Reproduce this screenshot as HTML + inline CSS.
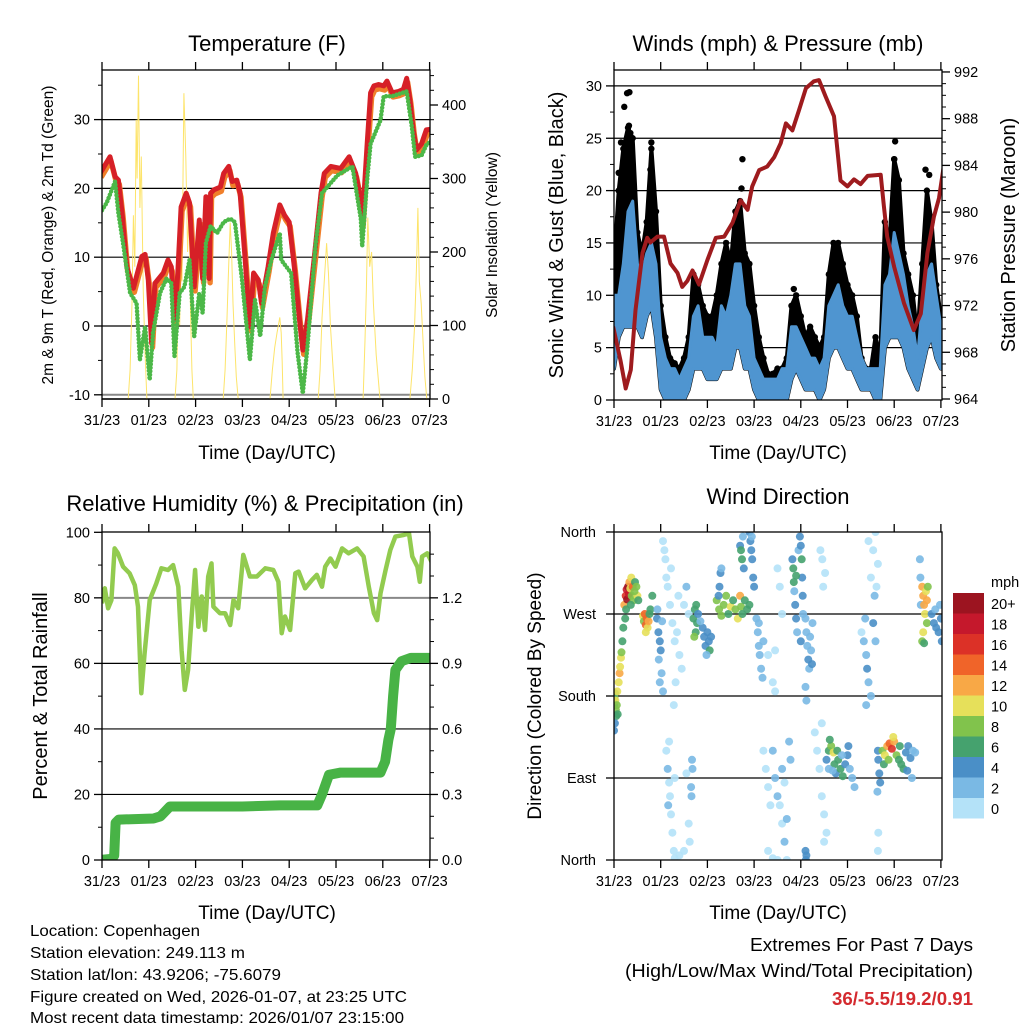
<!DOCTYPE html>
<html><head><meta charset="utf-8"><style>
html,body{margin:0;padding:0;background:#fff;}
svg{display:block;font-family:"Liberation Sans",Arial,sans-serif;}
</style></head><body>
<svg id="svg" width="1024" height="1024" viewBox="0 0 1024 1024">
<defs>
<clipPath id="c1"><rect x="102" y="70" width="328" height="330"/></clipPath>
<clipPath id="c2"><rect x="614" y="70" width="328" height="330"/></clipPath>
<clipPath id="c3"><rect x="102" y="532" width="328" height="328"/></clipPath>
<clipPath id="c4"><rect x="614" y="532" width="328" height="328"/></clipPath>
</defs>
<text x="267" y="51" font-size="22" text-anchor="middle">Temperature (F)</text>
<text x="778" y="51" font-size="22" text-anchor="middle">Winds (mph) &amp; Pressure (mb)</text>
<text x="265" y="511" font-size="22" text-anchor="middle">Relative Humidity (%) &amp; Precipitation (in)</text>
<text x="778" y="504" font-size="22" text-anchor="middle">Wind Direction</text>
<text x="267" y="459" font-size="19" text-anchor="middle">Time (Day/UTC)</text>
<text x="778" y="459" font-size="19" text-anchor="middle">Time (Day/UTC)</text>
<text x="267" y="919" font-size="19" text-anchor="middle">Time (Day/UTC)</text>
<text x="778" y="919" font-size="19" text-anchor="middle">Time (Day/UTC)</text>
<text transform="translate(53,235) rotate(-90)" font-size="15.5" text-anchor="middle">2m &amp; 9m T (Red, Orange) &amp; 2m Td (Green)</text>
<text transform="translate(497,235) rotate(-90)" font-size="15.5" text-anchor="middle">Solar Insolation (Yellow)</text>
<text transform="translate(563,235) rotate(-90)" font-size="20" text-anchor="middle">Sonic Wind &amp; Gust (Blue, Black)</text>
<text transform="translate(1015,235) rotate(-90)" font-size="20" text-anchor="middle">Station Pressure (Maroon)</text>
<text transform="translate(47,696) rotate(-90)" font-size="20" text-anchor="middle">Percent &amp; Total Rainfall</text>
<text transform="translate(541,696) rotate(-90)" font-size="19" text-anchor="middle">Direction (Colored By Speed)</text>
<g font-size="16">
<text x="30" y="936" textLength="170" lengthAdjust="spacingAndGlyphs">Location: Copenhagen</text>
<text x="30" y="958" textLength="215" lengthAdjust="spacingAndGlyphs">Station elevation: 249.113 m</text>
<text x="30" y="980" textLength="251" lengthAdjust="spacingAndGlyphs">Station lat/lon: 43.9206; -75.6079</text>
<text x="30" y="1002" textLength="377" lengthAdjust="spacingAndGlyphs">Figure created on Wed, 2026-01-07, at 23:25 UTC</text>
<text x="30" y="1023" textLength="374" lengthAdjust="spacingAndGlyphs">Most recent data timestamp: 2026/01/07 23:15:00</text>
</g>
<text x="750" y="951" font-size="18" textLength="223" lengthAdjust="spacingAndGlyphs">Extremes For Past 7 Days</text>
<text x="625" y="977" font-size="18" textLength="348" lengthAdjust="spacingAndGlyphs">(High/Low/Max Wind/Total Precipitation)</text>
<text x="832" y="1005" font-size="18" font-weight="bold" fill="#d42a2f" textLength="141" lengthAdjust="spacingAndGlyphs">36/-5.5/19.2/0.91</text>
</svg>
<script>
const dayLabels=["31/23","01/23","02/23","03/23","04/23","05/23","06/23","07/23"];
const tempTicks=[-10,0,10,20,30];
const solarTicks=[0,100,200,300,400];
const windTicks=[0,5,10,15,20,25,30];
const presTicks=[964,968,972,976,980,984,988,992];
const rhTicks=[0,20,40,60,80,100];
const precipTicks=[0,0.3,0.6,0.9,1.2];
const dirTicks=[0,90,180,270,360];
const dirLabels=["North","East","South","West","North"];

const tempT=[[-0.04,22.2],[0.17,24.6],[0.28,21.7],[0.35,21.2],[0.43,16.4],[0.53,8.6],[0.67,5.5],[0.85,10.1],[0.92,10.4],[0.99,6.7],[1.06,-2.5],[1.13,6.2],[1.31,7.7],[1.41,9.6],[1.48,8.6],[1.55,0.9],[1.62,7.7],[1.69,17.3],[1.8,19.3],[1.87,17.9],[1.97,5.7],[2.08,15.4],[2.15,6.9],[2.22,18.8],[2.29,6.9],[2.32,19.3],[2.39,19.8],[2.53,20.2],[2.6,22.2],[2.71,23.2],[2.78,21],[2.88,21.2],[2.95,19.3],[3.06,9.6],[3.16,-0.1],[3.24,7.7],[3.34,6.7],[3.41,3.3],[3.55,8.6],[3.66,13.5],[3.8,17.6],[3.9,16.1],[4.0,15.1],[4.11,8.6],[4.22,0.9],[4.29,-3.5],[4.39,0.9],[4.53,9.6],[4.68,19.3],[4.75,22.2],[4.89,23.2],[5.1,22.9],[5.28,24.6],[5.42,22.2],[5.53,18.3],[5.56,15.1],[5.6,19.3],[5.67,27],[5.74,33.9],[5.81,34.9],[5.91,35.1],[6.02,34.9],[6.09,35.6],[6.2,33.9],[6.34,34.1],[6.44,34.4],[6.51,36.0],[6.58,32.9],[6.65,28.5],[6.72,25.6],[6.83,26.5],[6.93,28.5],[7.05,28.6]];
const tempTd=[[-0.04,16.4],[0.1,17.9],[0.28,21.0],[0.35,16.4],[0.46,11.6],[0.6,4.8],[0.74,3.3],[0.81,-4.9],[0.92,-0.1],[1.02,-7.8],[1.09,-1.0],[1.24,4.8],[1.38,6.9],[1.48,6.2],[1.55,-4.4],[1.66,4.8],[1.76,5.7],[1.87,9.6],[1.97,-1.5],[2.08,4.8],[2.15,1.9],[2.22,12.1],[2.32,14.5],[2.46,13.5],[2.6,15.1],[2.74,15.6],[2.84,15.1],[2.99,6.9],[3.16,-4.9],[3.27,3.8],[3.38,-1.5],[3.48,5.7],[3.62,9.6],[3.8,13.5],[3.83,9.6],[4.04,7.7],[4.18,-3.9],[4.29,-9.8],[4.39,-2.9],[4.56,11.6],[4.7,19.3],[5.03,21.9],[5.35,23.2],[5.53,15.6],[5.56,11.6],[5.67,21.7],[5.74,26.5],[5.95,29.9],[6.02,33.4],[6.2,33.4],[6.51,34.1],[6.62,29],[6.69,24.6],[6.83,24.8],[6.93,26.3],[7.05,27]];
const solar=[[-0.05,0],[0.56,0],[0.6,40],[0.64,130],[0.67,250],[0.7,180],[0.73,380],[0.75,300],[0.78,440],[0.81,260],[0.84,330],[0.88,150],[0.92,60],[0.96,0],[1.56,0],[1.6,40],[1.63,150],[1.66,100],[1.69,220],[1.71,160],[1.73,300],[1.75,416],[1.79,330],[1.83,200],[1.86,260],[1.89,120],[1.92,40],[1.95,0],[2.59,0],[2.63,40],[2.67,110],[2.7,170],[2.74,240],[2.77,200],[2.8,130],[2.84,70],[2.87,30],[2.91,0],[3.59,0],[3.64,40],[3.69,70],[3.74,90],[3.8,111],[3.83,90],[3.85,50],[3.87,0],[4.62,0],[4.66,40],[4.7,110],[4.74,150],[4.8,212],[4.84,170],[4.88,100],[4.93,50],[4.98,0],[5.58,0],[5.62,80],[5.65,150],[5.68,247],[5.72,180],[5.76,200],[5.8,130],[5.86,60],[5.94,0],[6.58,0],[6.63,40],[6.68,100],[6.72,180],[6.75,260],[6.78,160],[6.82,130],[6.86,80],[6.9,30],[6.94,0],[7.05,0]];

const pres=[[-0.02,970.2],[0.14,967.3],[0.25,964.9],[0.36,966.5],[0.46,971.6],[0.61,976.5],[0.71,977.8],[0.78,977.4],[0.93,977.9],[1.07,977.9],[1.21,975.6],[1.36,974.8],[1.46,973.6],[1.57,974.1],[1.68,975],[1.82,973.8],[2.0,975.9],[2.18,977.8],[2.36,977.9],[2.54,979.1],[2.71,981],[2.86,980.2],[2.96,982.2],[3.11,983.6],[3.28,983.9],[3.43,984.7],[3.57,985.9],[3.68,987.6],[3.82,987.0],[3.96,988.7],[4.11,990.6],[4.28,991.2],[4.39,991.3],[4.53,989.9],[4.71,988.2],[4.85,982.7],[5.0,982.2],[5.14,982.8],[5.28,982.4],[5.43,983.1],[5.71,983.2],[5.78,980.5],[5.85,977.9],[6.0,975.3],[6.21,972.2],[6.42,969.9],[6.57,971.3],[6.71,976.5],[6.85,979.6],[6.96,981.2],[7.06,983.9]];
const windTime=[0,0.1,0.2,0.3,0.4,0.5,0.6,0.7,0.8,0.9,1.0,1.1,1.2,1.3,1.4,1.5,1.6,1.7,1.8,1.9,2.0,2.1,2.2,2.3,2.4,2.5,2.6,2.7,2.8,2.9,3.0,3.1,3.2,3.3,3.4,3.5,3.6,3.7,3.8,3.9,4.0,4.1,4.2,4.3,4.4,4.5,4.6,4.7,4.8,4.9,5.0,5.1,5.2,5.3,5.4,5.5,5.6,5.7,5.8,5.9,6.0,6.1,6.2,6.3,6.4,6.5,6.6,6.7,6.8,6.9,7.0];
const windLo=[3,6,7,7,7,7,6,8,9,6,1,0,0,0,0,0,1,3,3,3,2,2,2,3,3,3,5,5,3,3,1,0,0,0,0,0,0,0,2,3,2,1,1,1,0,1,4,5,5,4,3,3,2,1,1,1,0,0,5,6,6,6,5,3,2,1,3,5,6,4,3];
const windHi=[10,10,13,18,19,13,12,14,15,13,6,4,3,3,2,3,4,8,9,6,6,6,5,9,8,10,13,13,9,8,4,3,2,2,2,2,3,3,7,7,6,5,4,4,3,4,9,10,11,9,8,8,6,4,3,3,3,3,11,12,16,14,12,9,7,4,9,12,13,10,7];
const gustHi=[13,20,24,26,25,16,14,17,24,18,9,6,4,3.5,3,4,6,12,11,9,8,8,10,13,15,13,18,19,14,13,9,6,4,2.5,2.5,3,3,4,9,10,8,6,7,6,5,6,12,15,15,13,11,10,8,4,3,3,6,4,17,15,23,21,14,12,10,6,13,20,17,11,8];
const gustExtra=[[0.22,28],[0.28,29.3],[0.33,29.4],[0.32,26.2],[0.35,25.5],[0.15,24.6],[0.8,24.6],[0.78,22],[2.75,23],[2.73,20.2],[6.02,24.7],[6.0,23],[6.67,22],[6.75,21.5],[3.85,10.6],[0.1,21.7],[0.2,22.3],[0.4,20.3]];

const rh=[[0,78.3],[0.06,82.9],[0.13,76.8],[0.2,79.3],[0.27,95.1],[0.34,93.6],[0.45,89.5],[0.59,87.5],[0.7,83.9],[0.77,77.3],[0.84,50.9],[0.91,63.1],[1.02,79.3],[1.16,84.4],[1.27,89],[1.41,88.5],[1.52,90],[1.63,83.4],[1.7,64],[1.77,51.9],[1.84,58],[1.91,73.2],[1.99,88.5],[2.06,71.2],[2.13,80.4],[2.2,70.2],[2.27,86.5],[2.34,90.5],[2.38,77.3],[2.52,75.3],[2.63,75.3],[2.74,71.7],[2.81,79.3],[2.91,76.8],[3.02,93.1],[3.16,86.5],[3.31,86.5],[3.49,89],[3.66,88.5],[3.77,84.9],[3.84,69.2],[3.91,74.3],[4.02,70.2],[4.13,87.5],[4.2,88],[4.34,82.9],[4.49,85.5],[4.59,87],[4.7,83.4],[4.77,89.5],[4.88,92],[4.99,89.5],[5.13,95.1],[5.27,93.6],[5.45,95.1],[5.59,92.6],[5.7,83.4],[5.81,75.3],[5.88,73.2],[5.95,81.4],[6.06,88.5],[6.16,94.6],[6.27,98.7],[6.45,99.2],[6.56,99.7],[6.63,92.6],[6.74,89.5],[6.79,84.9],[6.84,92.6],[6.95,93.6],[7.04,91]];
const precip=[[-0.05,0],[0.2,0.005],[0.26,0.02],[0.29,0.17],[0.36,0.185],[1.1,0.19],[1.25,0.2],[1.45,0.245],[3.0,0.245],[3.8,0.25],[4.6,0.25],[4.7,0.3],[4.85,0.39],[5.1,0.4],[5.95,0.4],[6.05,0.45],[6.12,0.55],[6.17,0.6],[6.22,0.75],[6.27,0.87],[6.4,0.91],[6.6,0.925],[7.05,0.925]];

const wdPoints=[[0.0,170,6],[0.01,178,8],[0.02,183,7],[0.03,175,10],[0.04,165,9],[0.05,158,7],[0.06,170,8],[0.08,160,6],[0.02,150,4],[0.0,142,4],[0.07,185,10],
[0.1,195,10],[0.12,205,12],[0.13,212,11],[0.15,222,10],[0.16,228,8],[0.18,240,6],[0.2,255,7],
[0.22,280,12],[0.25,290,16],[0.27,297,18],[0.28,286,20],[0.3,300,20],[0.32,292,18],[0.33,305,13],[0.35,298,11],[0.37,310,10],[0.38,290,9],[0.4,300,14],[0.42,285,8],[0.45,305,7],[0.48,300,8],[0.5,290,10],[0.52,285,7],[0.26,275,7],[0.24,265,6],[0.36,280,6],[0.44,295,9],
[0.62,268,10],[0.64,262,9],[0.66,270,14],[0.68,258,15],[0.7,265,14],[0.72,255,11],[0.74,262,12],[0.76,270,7],[0.78,275,6],[0.68,250,10],[0.82,290,6],
[0.92,265,4],[0.95,250,4],[0.98,240,5],[1.0,230,4],[0.96,220,3],[1.02,205,3],[0.98,195,2],[1.05,185,3],[0.93,275,3],[1.03,262,2],
[1.05,350,0],[1.08,340,1],[1.1,330,0],[1.12,310,1],[1.15,300,1],[1.2,280,0],[1.25,260,1],[1.3,240,1],[1.35,250,0],[1.4,225,1],[1.45,210,0],[1.5,280,1],[1.55,300,2],[1.6,270,1],[1.22,320,1],[1.38,290,1],[1.32,195,0],[1.28,170,1],
[1.12,120,1],[1.15,100,2],[1.18,85,1],[1.2,70,1],[1.22,50,0],[1.25,30,1],[1.28,10,0],[1.3,2,1],[1.18,130,0],[1.16,60,3],[1.3,90,1],[1.4,5,0],[1.6,40,1],[1.65,80,3],[1.67,110,3],[1.66,70,2],[1.68,100,2],[1.62,20,1],[1.55,95,0],[1.5,10,1],
[1.7,265,6],[1.73,275,7],[1.76,280,6],[1.78,260,6],[1.8,270,5],[1.75,250,6],[1.9,255,4],[1.93,245,4],[1.96,235,5],[2.0,250,4],[2.03,240,4],[2.05,230,6],[1.98,225,3],[1.85,262,3],[2.08,245,4],[1.72,245,8],
[2.2,285,8],[2.25,275,8],[2.3,268,9],[2.35,280,8],[2.4,290,9],[2.45,270,7],[2.5,278,10],[2.55,285,6],[2.6,275,8],[2.65,265,10],[2.7,290,12],[2.72,278,8],[2.75,270,7],[2.8,285,6],[2.85,275,6],[2.9,280,6],
[2.26,300,4],[2.28,315,4],[2.3,320,3],[2.24,290,5],
[2.7,345,4],[2.72,340,6],[2.74,330,7],[2.76,355,3],[2.78,320,4],[2.9,360,4],[2.92,350,4],[2.94,340,4],[2.96,330,4],[2.98,310,4],[3.0,300,4],[2.95,355,3],
[3.05,265,2],[3.08,250,3],[3.1,235,3],[3.12,225,2],[3.15,210,3],[3.18,200,3],[3.1,260,2],[3.2,240,2],[3.3,225,1],[3.4,195,1],[3.45,185,0],[3.5,320,1],[3.55,300,1],[3.6,270,1],[3.45,230,1],
[3.2,120,1],[3.25,100,1],[3.3,80,0],[3.35,60,1],[3.4,120,2],[3.45,90,3],[3.5,70,2],[3.55,60,1],[3.6,40,1],[3.65,20,2],[3.7,0,1],[3.3,10,0],[3.4,2,0],[3.5,0,1],[3.6,100,2],[3.65,85,1],[3.7,45,3],[3.75,130,2],[3.78,110,2],
[3.82,330,4],[3.84,320,6],[3.85,305,6],[3.86,295,3],[3.88,280,4],[3.9,265,4],[3.92,250,3],[3.95,340,3],[3.98,355,4],[4.0,345,4],[4.02,330,6],[4.03,310,4],[4.04,290,4],[3.9,312,6],[4.05,270,3],[4.0,240,4],
[4.1,265,3],[4.12,250,2],[4.14,235,3],[4.16,220,4],[4.18,210,2],[4.2,245,2],[4.22,230,3],[4.24,215,4],[4.1,190,3],[4.12,175,2],[4.25,260,3],
[4.1,10,4],[4.12,5,4],[4.11,0,4],
[4.3,140,1],[4.35,120,1],[4.4,100,1],[4.45,70,0],[4.5,50,1],[4.55,30,1],[4.45,150,1],[4.5,20,0],[4.42,340,1],[4.48,300,1],[4.52,315,0],[4.46,330,1],
[4.55,110,5],[4.6,120,7],[4.65,125,9],[4.7,118,10],[4.72,105,7],[4.75,95,4],[4.8,110,6],[4.85,100,6],[4.9,92,6],[4.95,105,5],[5.0,115,4],[5.05,100,3],[5.1,90,2],[5.15,80,3],[4.6,100,3],[4.68,98,3],[4.78,120,6],[4.88,115,3],[5.02,125,4],[4.62,132,7],
[5.3,250,1],[5.35,240,2],[5.4,225,3],[5.42,210,4],[5.45,195,2],[5.5,180,2],[5.38,265,3],[5.55,260,4],[5.6,240,2],[5.62,300,1],[5.55,340,0],[5.6,360,0],[5.65,325,0],[5.58,290,3],[5.5,310,1],[5.4,170,2],[5.45,350,1],
[5.65,120,4],[5.66,110,5],[5.68,95,4],[5.7,85,4],[5.64,75,2],[5.66,30,1],[5.65,10,1],
[5.75,120,8],[5.8,115,10],[5.85,125,12],[5.9,128,14],[5.95,122,16],[6.0,130,12],[6.05,115,8],[6.1,110,6],[6.15,105,6],[6.2,100,6],[6.25,118,5],[6.3,125,4],[6.35,112,4],[6.4,120,3],[6.45,118,3],[5.78,105,6],[5.88,110,8],[5.98,135,10],[6.12,125,7],[6.28,98,4],[6.38,90,3],
[6.55,330,2],[6.56,310,2],[6.57,280,2],[6.6,300,12],[6.62,290,12],[6.64,280,13],[6.66,270,11],[6.68,295,10],[6.7,285,12],[6.62,250,10],[6.6,240,8],[6.64,238,6],[6.7,260,8],[6.72,300,8],
[6.8,270,4],[6.85,260,4],[6.9,255,4],[6.95,250,4],[7.0,265,4],[7.02,240,4],[6.88,275,3],[6.98,280,3]];
const speedColors=["#b4e2f8","#7ab9e4","#4a8fc7","#45a26e","#81c34c","#e6e05a","#f8a846","#f06429","#dc3127","#c5182c","#9c1420"];
const speedLabels=["0","2","4","6","8","10","12","14","16","18","20+"];

const NS="http://www.w3.org/2000/svg";
const svg=document.getElementById('svg');
function mk(tag,attrs,parent){const e=document.createElementNS(NS,tag);for(const k in attrs)e.setAttribute(k,attrs[k]);(parent||svg).appendChild(e);return e;}
function grp(name,clip){const g=mk('g',clip?{'clip-path':'url(#'+clip+')'}:{});return g;}
function line(g,x1,y1,x2,y2,stroke,w){return mk('line',{x1:x1,y1:y1,x2:x2,y2:y2,stroke:stroke,'stroke-width':w},g);}
function txt(g,x,y,s,anchor,size){const t=mk('text',{x:x,y:y,'font-size':size||14,'text-anchor':anchor},g);t.textContent=s;return t;}

const xL=t=>102+t*46.8, xR=t=>614+t*46.7;
const yT=v=>326-v*6.88, yS=w=>399-w*0.735;
const yW=v=>400-v*10.47, yP=p=>399-(p-964)*11.68;
const yRH=v=>860-v*3.277, yPr=v=>860-v/0.015*3.277;
const yD=d=>860-d*328/360;

function frame(name,x0,y0,x1,y1,xf){
  const g=grp(name);
  dayLabels.forEach((lab,i)=>{const x=xf(i);
    line(g,x,y1,x,y1+8,'#000',1.3);line(g,x,y0,x,y0-8,'#000',1.3);
    const t=txt(g,x,y1+26,lab,'middle',14.5);
    
    
  });
  const r=mk('rect',{x:x0,y:y0,width:x1-x0,height:y1-y0,fill:'none',stroke:'#000','stroke-width':1.3},g);
  
  
  return g;
}
function gridY(g,vals,yf,x0,x1,greyFn){vals.forEach(v=>{line(g,x0,yf(v),x1,yf(v),greyFn&&greyFn(v)?'#888':'#000',greyFn&&greyFn(v)?2:1.2);});}
function axisY(g,vals,yf,x,side,fmt,minor,lbl){
  const d=side==='left'?-8:8;
  vals.forEach(v=>{const y=yf(v);line(g,x,y,x+d,y,'#000',1.3);
    const t=txt(g,x+(side==='left'?-12:12),y+5,fmt?fmt(v):String(v),side==='left'?'end':'start',14.5);
    
    
  });
  (minor||[]).forEach(v=>{const y=yf(v);line(g,x,y,x+d/2,y,'#000',1);});
}
function pathFrom(arr,xf,yf){return arr.map((p,i)=>(i?'L':'M')+xf(p[0]).toFixed(1)+','+yf(p[1]).toFixed(1)).join('');}
function range(a,b,s){const r=[];for(let v=a;v<=b+1e-9;v+=s)r.push(+v.toFixed(3));return r;}

/* ---- Panel 1 Temperature ---- */
{
 const gg=grp('temp-grid');gridY(gg,tempTicks,yT,102,430,v=>v===-10);
 line(gg,102,yS(0),430,yS(0),'#999',2);
 const gd=grp('temp-data','c1');
 let p=mk('path',{d:pathFrom(solar,xL,yS),fill:'none',stroke:'#fde46a','stroke-width':1},gd);
 
 p=mk('path',{d:pathFrom(tempT.map(q=>[q[0]+0.02,q[1]-0.6]),xL,yT),fill:'none',stroke:'#f07f2a','stroke-width':5.5,'stroke-linejoin':'round'},gd);
 
 p=mk('path',{d:pathFrom(tempT,xL,yT),fill:'none',stroke:'#d62027','stroke-width':5,'stroke-linejoin':'round'},gd);
 
 p=mk('path',{d:pathFrom(tempTd,xL,yT),fill:'none',stroke:'#4cb848','stroke-width':4.5,'stroke-linecap':'round','stroke-dasharray':'0 3.5'},gd);
 
 const ga=frame('temp-axes',102,70,430,399,xL);
 axisY(ga,tempTicks,yT,102,'left',null,range(-5,35,10),'temp-tick-label');
 axisY(ga,solarTicks,yS,430,'right',null,range(20,440,20).filter(v=>v%100),'solar-tick-label');
}
/* ---- Panel 2 Winds ---- */
{
 const gg=grp('wind-grid');gridY(gg,windTicks.slice(1),yW,614,942);
 const gd=grp('wind-data','c2');
 let d='M'+windTime.map((t,i)=>xR(t).toFixed(1)+','+yW(gustHi[i]).toFixed(1)).join('L')+'L'+windTime.map((t,i)=>xR(t).toFixed(1)+','+yW(windLo[i]).toFixed(1)).reverse().join('L')+'Z';
 let p=mk('path',{d:d,fill:'#000',stroke:'#000','stroke-width':4,'stroke-linejoin':'round'},gd);
 
 windTime.forEach((t,i)=>{const c=mk('circle',{cx:xR(t),cy:yW(gustHi[i]),r:3.2,fill:'#000'},gd);
   
   });
 gustExtra.forEach(q=>{const c=mk('circle',{cx:xR(q[0]),cy:yW(q[1]),r:3.2,fill:'#000'},gd);
   
   });
 d='M'+windTime.map((t,i)=>xR(t).toFixed(1)+','+yW(windHi[i]).toFixed(1)).join('L')+'L'+windTime.map((t,i)=>xR(t).toFixed(1)+','+yW(windLo[i]).toFixed(1)).reverse().join('L')+'Z';
 p=mk('path',{d:d,fill:'#4f95d0',stroke:'#4f95d0','stroke-width':3,'stroke-linejoin':'round'},gd);
 
 p=mk('path',{d:pathFrom(pres,xR,yP),fill:'none',stroke:'#9e1b1e','stroke-width':4,'stroke-linejoin':'round'},gd);
 
 const ga=frame('wind-axes',614,70,942,400,xR);
 axisY(ga,windTicks,yW,614,'left',null,range(2.5,30,5),'wind-tick-label');
 axisY(ga,presTicks,yP,942,'right',null,range(965,991,1).filter(v=>(v-964)%4),'pressure-tick-label');
}
/* ---- Panel 3 RH ---- */
{
 const gg=grp('rh-grid');gridY(gg,[20,40,60,80],yRH,102,430,v=>v===80);
 const gd=grp('rh-data','c3');
 let p=mk('path',{d:pathFrom(precip,xL,yPr),fill:'none',stroke:'#48b346','stroke-width':10,'stroke-linejoin':'round','stroke-linecap':'round'},gd);
 
 p=mk('path',{d:pathFrom(rh,xL,yRH),fill:'none',stroke:'#92cb4f','stroke-width':4.5,'stroke-linejoin':'round'},gd);
 
 const ga=frame('rh-axes',102,532,430,860,xL);
 axisY(ga,rhTicks,yRH,102,'left',null,range(10,90,20),'rh-tick-label');
 axisY(ga,precipTicks,yPr,430,'right',v=>v.toFixed(1),range(0.1,1.4,0.1).filter(v=>Math.round(v*10)%3),'precip-tick-label');
}
/* ---- Panel 4 Wind direction ---- */
{
 const gg=grp('dir-grid');gridY(gg,[90,180,270],yD,614,942);
 const gd=grp('dir-data','c4');
 wdPoints.forEach(q=>{const c=mk('circle',{cx:xR(q[0]).toFixed(1),cy:yD(q[1]).toFixed(1),r:4,fill:speedColors[Math.min(10,Math.floor(q[2]/2))],'fill-opacity':0.9},gd);
   
   });
 const ga=frame('dir-axes',614,532,942,860,xR);
 dirTicks.forEach((v,i)=>{const y=yD(v);line(ga,614,y,606,y,'#000',1.3);
   const t=txt(ga,596,y+5,dirLabels[i],'end',14.5);
   
   });
 const gl=grp('speed-colorbar');
 const t0=txt(gl,991,587,'mph','start',14.5);
 
 
 speedColors.slice().reverse().forEach((c,i)=>{const y=593+i*20.5;
   const r=mk('rect',{x:953,y:y,width:31,height:20.5,fill:c},gl);
   
   
   const t=txt(gl,991,y+16,speedLabels[10-i],'start',14.5);
   
   });
}
</script>
</body></html>
